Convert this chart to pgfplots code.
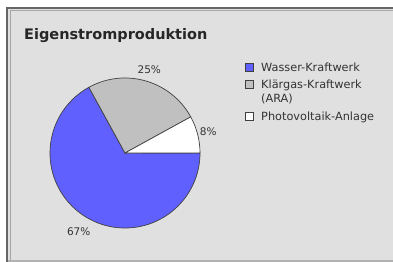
\documentclass[border=0pt]{standalone}
\usepackage{pgfplots}
\pgfplotsset{compat=1.18}
\usepackage{pgfplotstable}
\usepackage{fontspec}
\setmainfont{DejaVu Sans}
\definecolor{wasser}{RGB}{96,96,255}
\definecolor{klaer}{RGB}{192,192,192}
\definecolor{bg}{RGB}{224,224,224}
\definecolor{edge}{RGB}{64,64,64}

\pgfplotstableread{
share
67
25
8
}\piedata

\begin{document}
\begin{tikzpicture}
\pgfplotstablegetelem{0}{share}\of\piedata \pgfmathsetmacro{\sA}{\pgfplotsretval}
\pgfplotstablegetelem{1}{share}\of\piedata \pgfmathsetmacro{\sB}{\pgfplotsretval}
\pgfplotstablegetelem{2}{share}\of\piedata \pgfmathsetmacro{\sC}{\pgfplotsretval}
\pgfmathsetmacro{\tot}{\sA+\sB+\sC}
\pgfmathsetmacro{\aA}{-(\sA/\tot)*360}
\pgfmathsetmacro{\aB}{\aA-(\sB/\tot)*360}
\pgfmathsetmacro{\aC}{\aB-(\sC/\tot)*360}
\pgfmathsetmacro{\mA}{\aA/2}
\pgfmathsetmacro{\mB}{(\aA+\aB)/2}
\pgfmathsetmacro{\mC}{(\aB+\aC)/2}
\pgfmathtruncatemacro{\pA}{round(\sA)}
\pgfmathtruncatemacro{\pB}{round(\sB)}
\pgfmathtruncatemacro{\pC}{round(\sC)}
\begin{axis}[
  scale only axis, width=393bp, height=262bp,
  xmin=0, xmax=393, ymin=0, ymax=262, y dir=reverse,
  hide axis, clip=false]
% background and frame
\fill[white] (axis cs:0,0) rectangle (axis cs:393,262);
\fill[bg] (axis cs:7,8) rectangle (axis cs:393,262);
\draw[black!30, line width=1.6bp] (axis cs:7,260.8) -- (axis cs:393,260.8);
\draw[black!60, line width=1.3bp] (axis cs:7,262) -- (axis cs:7,8) -- (axis cs:393,8);
\draw[black!35, line width=0.8bp] (axis cs:10,259.5) -- (axis cs:10,10.5) -- (axis cs:393,10.5);
% title
\node[anchor=base west, inner sep=0pt, font=\bfseries\fontsize{14.5bp}{17bp}\selectfont, text=black!85]
  at (axis cs:24,39) {Eigenstromproduktion};
% pie slices
\filldraw[fill=wasser, draw=edge, line width=0.7bp]
  (axis cs:125,153) -- ++(0:75bp) arc[start angle=0, end angle=\aA, radius=75bp] -- cycle;
\filldraw[fill=klaer, draw=edge, line width=0.7bp]
  (axis cs:125,153) -- ++(\aA:75bp) arc[start angle=\aA, end angle=\aB, radius=75bp] -- cycle;
\filldraw[fill=white, draw=edge, line width=0.7bp]
  (axis cs:125,153) -- ++(\aB:75bp) arc[start angle=\aB, end angle=\aC, radius=75bp] -- cycle;
% labels
\path[font=\fontsize{10.5bp}{12bp}\selectfont]
  (axis cs:125,153) ++(\mA:91bp) node[text=black!80] {\pA\%}
  (axis cs:125,153) ++(\mB:87bp) node[text=black!80] {\pB\%}
  (axis cs:125,153) ++(\mC:86bp) node[text=black!80] {\pC\%};
% legend
\filldraw[fill=wasser, draw=edge, line width=0.6bp] (axis cs:245,63) rectangle (axis cs:253,71);
\filldraw[fill=klaer, draw=edge, line width=0.6bp] (axis cs:245,80.5) rectangle (axis cs:253,88.5);
\filldraw[fill=white, draw=edge, line width=0.6bp] (axis cs:245,112) rectangle (axis cs:253,120);
\begin{scope}[every node/.style={anchor=base west, inner sep=0pt, text=black!80, font=\fontsize{11.3bp}{13bp}\selectfont}]
\node at (axis cs:261,71) {Wasser-Kraftwerk};
\node at (axis cs:261,88.5) {Klärgas-Kraftwerk};
\node at (axis cs:261,102) {(ARA)};
\node at (axis cs:261,120) {Photovoltaik-Anlage};
\end{scope}
\end{axis}
\pgfresetboundingbox
\path (current axis.south west) rectangle (current axis.north east);
\end{tikzpicture}
\end{document}
